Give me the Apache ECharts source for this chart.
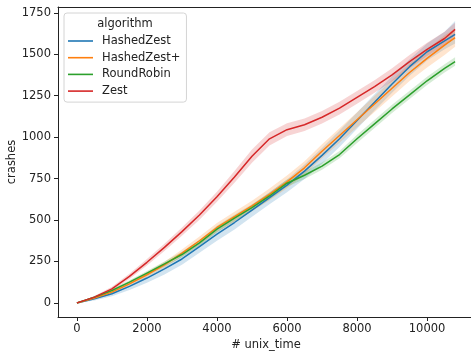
<!DOCTYPE html>
<html>
<head>
<meta charset="utf-8">
<script src="https://cdn.jsdelivr.net/npm/echarts@6/dist/echarts.min.js"></script>
<style>
  html, body { margin: 0; padding: 0; background: #fff; }
  #chart { width: 471px; height: 358px; }
</style>
</head>
<body>
<div id="chart"></div>
<script>
// time axis (seconds)
const times = [0, 500, 1000, 1500, 2000, 2500, 3000, 3500, 4000, 4500, 5000, 5500,
  6000, 6500, 7000, 7500, 8000, 8500, 9000, 9500, 10000, 10500, 10800]

const algorithms = ['HashedZest', 'HashedZest+', 'RoundRobin', 'Zest']
const colors = ['#1f77b4', '#ff7f0e', '#2ca02c', '#d62728']

// mean crashes
const hashedZest = [0, 25, 55, 100, 150, 205, 265, 340, 415, 485, 560, 635, 710, 795, 890, 990, 1100, 1210, 1320, 1425, 1515, 1580, 1620]
const hashedZestPlus = [0, 30, 65, 115, 170, 230, 300, 375, 455, 520, 585, 655, 730, 815, 915, 1010, 1105, 1200, 1295, 1390, 1475, 1555, 1600]
const roundRobin = [0, 35, 75, 125, 180, 235, 292, 362, 445, 512, 575, 645, 722, 770, 825, 895, 990, 1080, 1170, 1255, 1340, 1415, 1455]
const zest = [0, 35, 85, 160, 245, 335, 430, 530, 640, 760, 885, 990, 1045, 1075, 1120, 1175, 1240, 1305, 1375, 1455, 1530, 1595, 1650]

// confidence band bounds
const hashedZestLo = [0, 15, 40, 78, 122, 172, 230, 302, 375, 443, 520, 595, 668, 748, 840, 940, 1050, 1160, 1268, 1370, 1462, 1530, 1565]
const hashedZestHi = [0, 30, 65, 112, 165, 222, 285, 362, 440, 513, 590, 668, 745, 835, 935, 1040, 1148, 1258, 1368, 1470, 1565, 1635, 1700]
const hashedZestPlusLo = [0, 24, 56, 103, 155, 212, 278, 350, 428, 490, 553, 620, 692, 775, 873, 966, 1060, 1152, 1245, 1338, 1420, 1495, 1545]
const hashedZestPlusHi = [0, 36, 74, 127, 185, 248, 322, 400, 482, 550, 617, 690, 768, 855, 957, 1054, 1150, 1248, 1345, 1442, 1530, 1615, 1655]
const roundRobinLo = [0, 29, 66, 114, 167, 220, 276, 344, 425, 492, 555, 624, 700, 748, 803, 873, 965, 1055, 1145, 1230, 1315, 1390, 1430]
const roundRobinHi = [0, 41, 84, 136, 193, 250, 308, 380, 465, 532, 595, 666, 744, 792, 847, 917, 1015, 1105, 1195, 1280, 1365, 1440, 1482]
const zestLo = [0, 28, 73, 144, 225, 313, 405, 502, 610, 725, 845, 950, 1007, 1037, 1082, 1137, 1202, 1267, 1335, 1415, 1490, 1555, 1610]
const zestHi = [0, 42, 97, 176, 265, 357, 455, 558, 670, 795, 925, 1030, 1083, 1113, 1158, 1213, 1278, 1343, 1415, 1495, 1570, 1635, 1690]

const xTicks = [0, 2000, 4000, 6000, 8000, 10000]
const yTicks = [0, 250, 500, 750, 1000, 1250, 1500, 1750]

const means = [hashedZest, hashedZestPlus, roundRobin, zest]
const lows = [hashedZestLo, hashedZestPlusLo, roundRobinLo, zestLo]
const highs = [hashedZestHi, hashedZestPlusHi, roundRobinHi, zestHi]

const font = 'DejaVu Sans'
const textColor = '#222'

const bandSeries = (name, lo, hi, color) => ({
  type: 'custom',
  name: name + ' ci',
  silent: true,
  z: 1,
  data: [0],
  renderItem: (params, api) => {
    const pts = []
    times.forEach((t, i) => pts.push(api.coord([t, hi[i]])))
    for (let i = times.length - 1; i >= 0; i--) pts.push(api.coord([times[i], lo[i]]))
    return {
      type: 'polygon',
      shape: { points: pts },
      style: { fill: color, opacity: 0.2 }
    }
  }
})

const lineSeries = (name, vals, color) => ({
  type: 'line',
  name: name,
  z: 3,
  symbol: 'none',
  showSymbol: false,
  data: times.map((t, i) => [t, vals[i]]),
  lineStyle: { color: color, width: 1.5 },
  itemStyle: { color: color }
})

const series = []
algorithms.forEach((a, i) => series.push(bandSeries(a, lows[i], highs[i], colors[i])))
algorithms.forEach((a, i) => series.push(lineSeries(a, means[i], colors[i])))

const axisLine = { show: true, onZero: false, lineStyle: { color: '#222', width: 1 } }
const plain = v => String(v)

const chart = echarts.init(document.getElementById('chart'))
chart.setOption({
  animation: false,
  grid: { left: 58, top: 7, width: 416, height: 310, containLabel: false, outerBoundsMode: 'none' },
  xAxis: [{
    type: 'value',
    min: -540,
    max: 11340,
    name: '# unix_time',
    nameLocation: 'middle',
    nameGap: 22,
    nameMoveOverlap: false,
    nameTextStyle: { fontFamily: font, fontSize: 11.5, color: textColor },
    axisLine: axisLine,
    axisTick: { show: true, length: 4, lineStyle: { color: '#222' }, customValues: xTicks },
    axisLabel: { fontFamily: font, fontSize: 11.5, color: textColor, margin: 6, customValues: xTicks, formatter: plain },
    splitLine: { show: false }
  }, {
    type: 'value',
    position: 'top',
    min: -540,
    max: 11340,
    axisLine: axisLine,
    axisTick: { show: false },
    axisLabel: { show: false },
    splitLine: { show: false }
  }],
  yAxis: {
    type: 'value',
    min: -85,
    max: 1785,
    name: 'crashes',
    nameLocation: 'middle',
    nameGap: 40,
    nameMoveOverlap: false,
    nameTextStyle: { fontFamily: font, fontSize: 11.5, color: textColor },
    axisLine: axisLine,
    axisTick: { show: true, length: 4, lineStyle: { color: '#222' }, customValues: yTicks },
    axisLabel: { fontFamily: font, fontSize: 11.5, color: textColor, margin: 7, customValues: yTicks, formatter: plain },
    splitLine: { show: false }
  },
  legend: {
    data: algorithms,
    orient: 'vertical',
    left: 64,
    top: 13,
    icon: 'rect',
    itemWidth: 25,
    itemHeight: 1.6,
    itemGap: 2.7,
    padding: [21, 6, 4, 4],
    borderColor: '#d4d4d4',
    borderWidth: 1,
    borderRadius: 3,
    backgroundColor: 'rgba(255,255,255,0.8)',
    textStyle: { fontFamily: font, fontSize: 11.5, lineHeight: 14, color: textColor, padding: [0, 0, 0, 4] }
  },
  graphic: [{
    type: 'text',
    x: 125,
    y: 24,
    z: 100,
    style: {
      text: 'algorithm',
      textAlign: 'center',
      textVerticalAlign: 'middle',
      font: '11.5px "DejaVu Sans"',
      fill: textColor
    }
  }],
  series: series
})
</script>
</body>
</html>
